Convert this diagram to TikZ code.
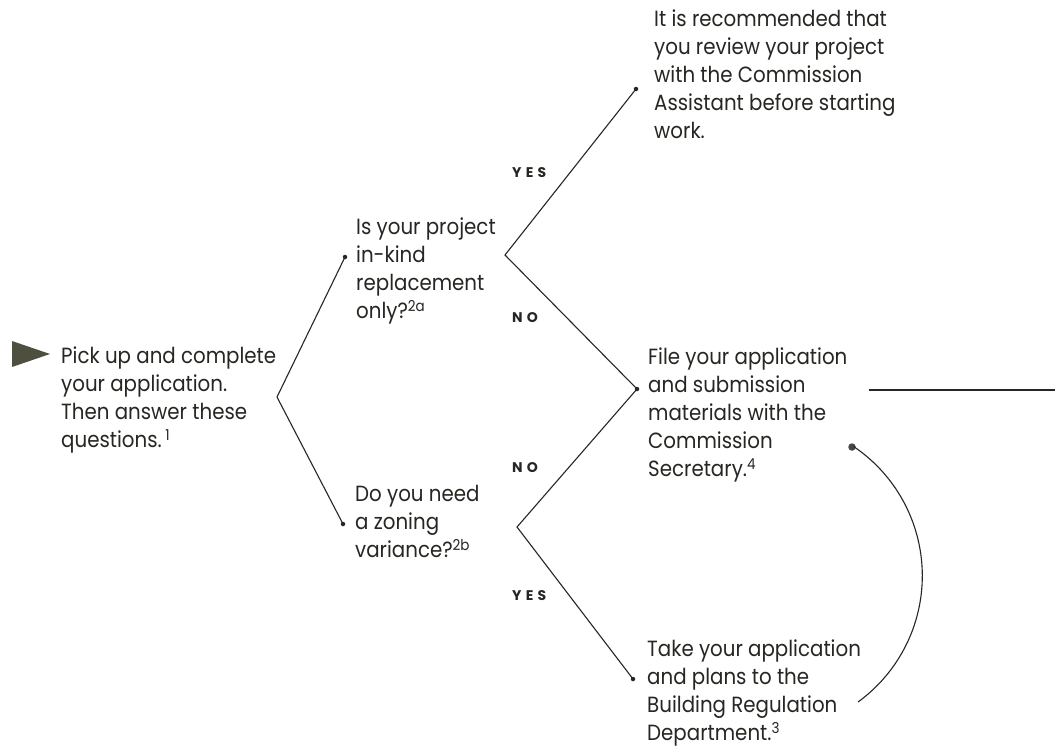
\documentclass[tikz,border=0pt]{standalone}
\usepackage{fontspec}
\setmainfont{Poppins}[FakeStretch=0.9]
\newfontfamily\lblfont{Poppins}[LetterSpace=30]
\newcommand\fnmark[1]{\raisebox{7pt}{\fontsize{15}{15}\selectfont #1}}
\definecolor{ink}{HTML}{262622}
\definecolor{arrowfill}{HTML}{4F4F40}
\begin{document}
\begin{tikzpicture}[x=1pt,y=-1pt,
  txt/.style={anchor=north west, inner sep=0pt, align=left,
    font=\fontsize{22}{28}\selectfont, text=ink,
    execute at begin node={\rule{0pt}{16pt}}},
  lbl/.style={anchor=west, inner sep=0pt, text=ink,
    font=\lblfont\bfseries\fontsize{14}{15}\selectfont},
  ln/.style={draw=ink, line width=1.1pt},
  dotsm/.style={circle, fill=ink, inner sep=0pt, minimum size=4.5pt},
  dotbig/.style={circle, fill=ink!85!white, inner sep=0pt, minimum size=7.5pt}]
\useasboundingbox (0,0) rectangle (1055,747);
\fill[white] (0,0) rectangle (1055,747);

% start arrow
\fill[arrowfill] (12,341) -- (50,354) -- (12,367) -- cycle;

% text nodes
\node[txt] (start) at (61,347) {Pick up and complete\\your application.\\Then answer these\\questions.\,\fnmark{1}};
\node[txt] (q1) at (356,218) {Is your project\\in-kind\\replacement\\only?\fnmark{2a}};
\node[txt] (q2) at (355,485) {Do you need\\a zoning\\variance?\fnmark{2b}};
\node[txt] (rec) at (654,10) {It is recommended that\\you review your project\\with the Commission\\Assistant before starting\\work.};
\node[txt] (file) at (648,348) {File your application\\and submission\\materials with the\\Commission\\Secretary.\fnmark{4}};
\node[txt] (take) at (647,640) {Take your application\\and plans to the\\Building Regulation\\Department.\fnmark{3}};

% vertices and dots
\coordinate (v0) at (277,397);
\coordinate (v1) at (505,255);
\coordinate (v2) at (517,527);
\node[dotsm] (dq1) at (345,257) {};
\node[dotsm] (dq2) at (343,524) {};
\node[dotsm] (drec) at (636,89) {};
\node[dotsm] (dfile) at (637,389) {};
\node[dotsm] (dtake) at (633,679) {};
\node[dotbig] (dloop) at (852,447) {};
\coordinate (hl) at (869,390);
\coordinate (hr) at (1055,390);
\coordinate (arcS) at (858,702);

% connectors
\draw[ln] (dq1.center) -- (v0) -- (dq2.center);
\draw[ln] (drec.center) -- (v1) -- (dfile.center);
\draw[ln] (dfile.center) -- (v2) -- (dtake.center);
\draw[ln] (hl) -- (hr);
\draw[ln] (arcS) arc[start angle=54, end angle=-56, radius=156];

% labels
\node[lbl] (yes1) at (512,173) {YES};
\node[lbl] (no1) at (512,318) {NO};
\node[lbl] (no2) at (512,468) {NO};
\node[lbl] (yes2) at (512,596) {YES};
\end{tikzpicture}
\end{document}
